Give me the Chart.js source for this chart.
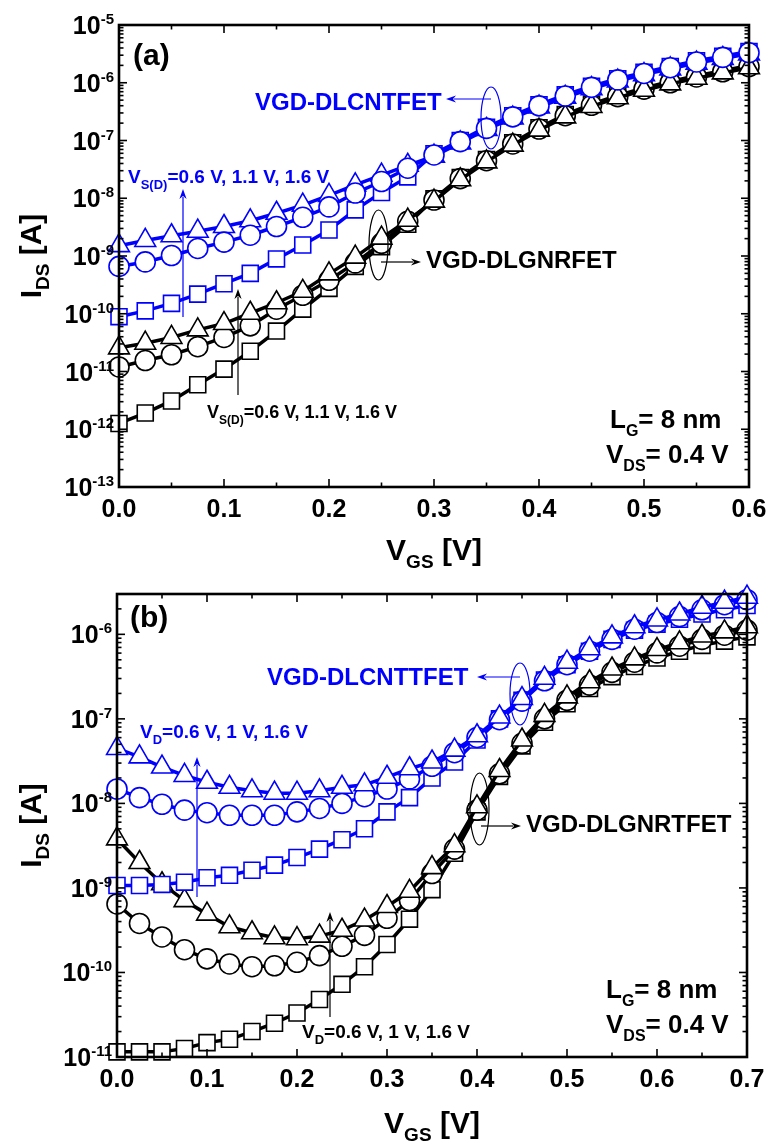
<!DOCTYPE html>
<html>
<head>
<meta charset="utf-8">
<script src="https://cdn.jsdelivr.net/npm/chart.js@4.4.1/dist/chart.umd.min.js"></script>
<style>
  html, body { margin: 0; padding: 0; background: #ffffff; }
  #wrap { position: relative; width: 766px; height: 1142px; overflow: hidden; }
  canvas { position: absolute; left: 0; }
  #chartA { top: 0; width: 766px; height: 570px; }
  #chartB { top: 570px; width: 766px; height: 572px; }
</style>
</head>
<body>
<div id="wrap">
  <canvas id="chartA" width="766" height="570"></canvas>
  <canvas id="chartB" width="766" height="572"></canvas>
</div>
<script>
// ---------------- Panel (a) data : I_DS [A] vs V_GS [V] ----------------
const vgsA = [0, 0.025, 0.05, 0.075, 0.1, 0.125, 0.15, 0.175, 0.2, 0.225, 0.25, 0.275, 0.3,
              0.325, 0.35, 0.375, 0.4, 0.425, 0.45, 0.475, 0.5, 0.525, 0.55, 0.575, 0.6];
// VGD-DLCNTFET (blue)
const cntTriA = [1.51e-9, 1.86e-9, 2.24e-9, 2.69e-9, 3.24e-9, 4.07e-9, 5.5e-9, 7.6e-9, 1.12e-8, 1.7e-8,
                 2.51e-8, 3.72e-8, 5.37e-8, 9.1e-8, 1.55e-7, 2.45e-7, 3.8e-7, 5.6e-7, 7.9e-7, 1.07e-6,
                 1.38e-6, 1.74e-6, 2.19e-6, 2.63e-6, 3.16e-6];
const cntCirA = [6.6e-10, 7.9e-10, 1.02e-9, 1.35e-9, 1.74e-9, 2.29e-9, 3.24e-9, 4.68e-9, 7.08e-9, 1.23e-8,
                 1.95e-8, 3.31e-8, 5.62e-8, 9.55e-8, 1.62e-7, 2.57e-7, 3.98e-7, 5.89e-7, 8.32e-7, 1.12e-6,
                 1.45e-6, 1.82e-6, 2.29e-6, 2.75e-6, 3.31e-6];
const cntSqA  = [8.9e-11, 1.12e-10, 1.51e-10, 2.19e-10, 3.31e-10, 5.0e-10, 8.9e-10, 1.55e-9, 2.82e-9, 6.3e-9,
                 1.26e-8, 2.34e-8, 5.89e-8, 1.0e-7, 1.7e-7, 2.69e-7, 4.17e-7, 6.17e-7, 8.71e-7, 1.17e-6,
                 1.51e-6, 1.91e-6, 2.4e-6, 2.88e-6, 3.47e-6];
// VGD-DLGNRFET (black)
const gnrTriA = [2.57e-11, 3.09e-11, 3.89e-11, 5.25e-11, 6.76e-11, 1.02e-10, 1.55e-10, 2.45e-10, 4.9e-10, 9.55e-10,
                 2.04e-9, 4.17e-9, 8.91e-9, 2.09e-8, 4.27e-8, 8.32e-8, 1.51e-7, 2.57e-7, 3.89e-7, 5.5e-7,
                 7.41e-7, 9.55e-7, 1.2e-6, 1.48e-6, 1.82e-6];
const gnrCirA = [1.2e-11, 1.55e-11, 1.95e-11, 2.69e-11, 3.89e-11, 6.17e-11, 1.2e-10, 2.09e-10, 3.8e-10, 7.59e-10,
                 1.66e-9, 3.98e-9, 9.33e-9, 2.19e-8, 4.47e-8, 8.71e-8, 1.58e-7, 2.69e-7, 4.07e-7, 5.75e-7,
                 7.76e-7, 1.0e-6, 1.26e-6, 1.55e-6, 1.91e-6];
const gnrSqA  = [1.26e-12, 1.91e-12, 3.09e-12, 5.89e-12, 1.1e-11, 2.24e-11, 5.01e-11, 1.2e-10, 2.75e-10, 6.61e-10,
                 1.45e-9, 3.55e-9, 9.77e-9, 2.29e-8, 4.68e-8, 9.12e-8, 1.66e-7, 2.82e-7, 4.27e-7, 6.03e-7,
                 8.13e-7, 1.05e-6, 1.32e-6, 1.62e-6, 2.0e-6];

// ---------------- Panel (b) data ----------------
const vgsB = [0, 0.025, 0.05, 0.075, 0.1, 0.125, 0.15, 0.175, 0.2, 0.225, 0.25, 0.275, 0.3, 0.325, 0.35,
              0.375, 0.4, 0.425, 0.45, 0.475, 0.5, 0.525, 0.55, 0.575, 0.6, 0.625, 0.65, 0.675, 0.7];
// VGD-DLCNTTFET (blue)
const cntTriB = [4.47e-8, 3.55e-8, 2.69e-8, 2.14e-8, 1.78e-8, 1.55e-8, 1.41e-8, 1.32e-8, 1.32e-8, 1.41e-8,
                 1.55e-8, 1.66e-8, 2.04e-8, 2.57e-8, 3.09e-8, 4.27e-8, 6.31e-8, 1.05e-7, 1.74e-7, 3.02e-7,
                 4.68e-7, 6.76e-7, 9.33e-7, 1.23e-6, 1.48e-6, 1.74e-6, 2.09e-6, 2.4e-6, 2.75e-6];
const cntCirB = [1.48e-8, 1.17e-8, 9.77e-9, 8.32e-9, 7.76e-9, 7.24e-9, 7.24e-9, 7.24e-9, 7.94e-9, 8.71e-9,
                 1.0e-8, 1.2e-8, 1.48e-8, 1.95e-8, 2.75e-8, 3.98e-8, 6.03e-8, 9.77e-8, 1.62e-7, 2.82e-7,
                 4.37e-7, 6.31e-7, 8.71e-7, 1.15e-6, 1.38e-6, 1.62e-6, 1.95e-6, 2.24e-6, 2.57e-6];
const cntSqB  = [1.07e-9, 1.07e-9, 1.1e-9, 1.17e-9, 1.32e-9, 1.41e-9, 1.62e-9, 1.86e-9, 2.29e-9, 2.88e-9,
                 3.72e-9, 5.01e-9, 7.94e-9, 1.17e-8, 2.0e-8, 3.09e-8, 5.62e-8, 1.0e-7, 1.66e-7, 2.88e-7,
                 4.37e-7, 6.31e-7, 8.71e-7, 1.12e-6, 1.32e-6, 1.51e-6, 1.74e-6, 1.95e-6, 2.19e-6];
// VGD-DLGNRTFET (black)
const gnrTriB = [3.8e-9, 2.0e-9, 1.12e-9, 7.08e-10, 4.9e-10, 3.47e-10, 2.95e-10, 2.57e-10, 2.51e-10, 2.69e-10,
                 3.16e-10, 4.17e-10, 6.03e-10, 9.12e-10, 1.74e-9, 3.16e-9, 9.12e-9, 2.45e-8, 5.62e-8, 1.1e-7,
                 1.82e-7, 2.75e-7, 3.89e-7, 5.13e-7, 6.61e-7, 7.94e-7, 9.55e-7, 1.07e-6, 1.23e-6];
const gnrCirB = [6.46e-10, 3.8e-10, 2.63e-10, 1.86e-10, 1.45e-10, 1.26e-10, 1.17e-10, 1.2e-10, 1.32e-10, 1.58e-10,
                 2.04e-10, 2.75e-10, 4.37e-10, 7.08e-10, 1.48e-9, 2.88e-9, 8.32e-9, 2.24e-8, 5.13e-8, 1.0e-7,
                 1.66e-7, 2.51e-7, 3.55e-7, 4.68e-7, 6.03e-7, 7.24e-7, 8.71e-7, 9.77e-7, 1.12e-6];
const gnrSqB  = [1.15e-11, 1.15e-11, 1.15e-11, 1.26e-11, 1.48e-11, 1.62e-11, 2.0e-11, 2.51e-11, 3.31e-11, 4.79e-11,
                 7.24e-11, 1.17e-10, 2.14e-10, 4.27e-10, 9.55e-10, 2.57e-9, 7.94e-9, 2.09e-8, 4.79e-8, 9.12e-8,
                 1.51e-7, 2.29e-7, 3.16e-7, 4.17e-7, 5.25e-7, 6.31e-7, 7.41e-7, 8.32e-7, 9.33e-7];

// ---------------- Tick labels ----------------
const xTicksA = [0, 0.1, 0.2, 0.3, 0.4, 0.5, 0.6];
const xTickLabelsA = ['0.0', '0.1', '0.2', '0.3', '0.4', '0.5', '0.6'];
const yExpA = [-13, -12, -11, -10, -9, -8, -7, -6, -5];
const xTicksB = [0, 0.1, 0.2, 0.3, 0.4, 0.5, 0.6, 0.7];
const xTickLabelsB = ['0.0', '0.1', '0.2', '0.3', '0.4', '0.5', '0.6', '0.7'];
const yExpB = [-11, -10, -9, -8, -7, -6];

// ---------------- helpers ----------------
const BLUE = '#0000ff';
const BLACK = '#000000';
const FAM = '"Liberation Sans", Arial, Helvetica, sans-serif';
function fnt(sz) { return 'bold ' + sz + 'px ' + FAM; }

function rich(ctx, x, y, parts, color, align) {
  let w = 0;
  for (const p of parts) { ctx.font = fnt(p[1]); w += ctx.measureText(p[0]).width; }
  let cx = align === 'right' ? x - w : (align === 'center' ? x - w / 2 : x);
  ctx.fillStyle = color;
  ctx.textAlign = 'left';
  ctx.textBaseline = 'alphabetic';
  for (const p of parts) {
    ctx.font = fnt(p[1]);
    ctx.fillText(p[0], cx, y + (p[2] || 0));
    cx += ctx.measureText(p[0]).width;
  }
}
function seg(ctx, x1, y1, x2, y2) {
  ctx.beginPath(); ctx.moveTo(x1, y1); ctx.lineTo(x2, y2); ctx.stroke();
}
function arrow(ctx, x1, y1, x2, y2, color) {
  ctx.strokeStyle = color; ctx.fillStyle = color; ctx.lineWidth = 1.2;
  const ang = Math.atan2(y2 - y1, x2 - x1);
  const L = 10, H = 3.6;
  seg(ctx, x1, y1, x2 - Math.cos(ang) * (L - 2), y2 - Math.sin(ang) * (L - 2));
  ctx.beginPath();
  ctx.moveTo(x2, y2);
  ctx.lineTo(x2 - Math.cos(ang) * L - Math.sin(ang) * H, y2 - Math.sin(ang) * L + Math.cos(ang) * H);
  ctx.lineTo(x2 - Math.cos(ang) * (L - 3), y2 - Math.sin(ang) * (L - 3));
  ctx.lineTo(x2 - Math.cos(ang) * L + Math.sin(ang) * H, y2 - Math.sin(ang) * L - Math.cos(ang) * H);
  ctx.closePath(); ctx.fill();
}

function makeDecor(cfg) {
  return {
    id: 'decor' + cfg.id,
    afterDraw(chart) {
      const ctx = chart.ctx, a = chart.chartArea;
      const xs = chart.scales.x, ys = chart.scales.y;
      ctx.save();
      ctx.strokeStyle = BLACK;
      ctx.lineWidth = 1.6;
      // x ticks (inward, bottom and top)
      cfg.xTicks.forEach((v, i) => {
        const p = xs.getPixelForValue(v);
        seg(ctx, p, a.bottom, p, a.bottom - 8);
        seg(ctx, p, a.top, p, a.top + 8);
        if (i < cfg.xTicks.length - 1) {
          const q = xs.getPixelForValue((v + cfg.xTicks[i + 1]) / 2);
          seg(ctx, q, a.bottom, q, a.bottom - 4.5);
          seg(ctx, q, a.top, q, a.top + 4.5);
        }
      });
      // y ticks (decades + minor 2..9), inward, left and right
      const e0 = cfg.yExp[0], e1 = cfg.yExp[cfg.yExp.length - 1];
      for (let e = e0; e <= e1 + 1; e++) {
        for (let m = 1; m <= 9; m++) {
          const v = m * Math.pow(10, e);
          if (v < ys.min * 0.999 || v > ys.max * 1.001) continue;
          const p = ys.getPixelForValue(v);
          const L = m === 1 ? 8 : 4.5;
          seg(ctx, a.left, p, a.left + L, p);
          seg(ctx, a.right, p, a.right - L, p);
        }
      }
      // frame
      ctx.lineWidth = 2.6;
      ctx.strokeRect(a.left, a.top, a.right - a.left, a.bottom - a.top);
      // x tick labels
      cfg.xTicks.forEach((v, i) => {
        rich(ctx, xs.getPixelForValue(v), a.bottom + 30, [[cfg.xLabels[i], 25, 0]], BLACK, 'center');
      });
      // y tick labels 10^n
      cfg.yExp.forEach(e => {
        const p = ys.getPixelForValue(Math.pow(10, e));
        rich(ctx, a.left - 5, p + 9, [['10', 25, 0], [String(e), 15, -10]], BLACK, 'right');
      });
      // axis titles
      rich(ctx, (a.left + a.right) / 2, cfg.xTitleY,
           [['V', 30, 0], ['GS', 19, 8], [' [V]', 30, 0]], BLACK, 'center');
      ctx.save();
      ctx.translate(cfg.yTitleX, (a.top + a.bottom) / 2);
      ctx.rotate(-Math.PI / 2);
      rich(ctx, 0, 0, [['I', 30, 0], ['DS', 19, 8], [' [A]', 30, 0]], BLACK, 'center');
      ctx.restore();
      // annotations (offsets from chart-area top-left)
      for (const it of cfg.notes) {
        if (it.t === 'text') {
          rich(ctx, a.left + it.dx, a.top + it.dy, it.parts, it.c, 'left');
        } else if (it.t === 'arrow') {
          arrow(ctx, a.left + it.x1, a.top + it.y1, a.left + it.x2, a.top + it.y2, it.c);
        } else if (it.t === 'ellipse') {
          ctx.strokeStyle = it.c; ctx.lineWidth = 1.2;
          ctx.beginPath();
          ctx.ellipse(a.left + it.cx, a.top + it.cy, it.rx, it.ry, 0, 0, Math.PI * 2);
          ctx.stroke();
        }
      }
      ctx.restore();
    }
  };
}

function ds(label, xs, ys, color, style, radius, order) {
  return {
    label: label,
    data: xs.map((x, i) => ({ x: x, y: ys[i] })),
    borderColor: color,
    backgroundColor: '#ffffff',
    borderWidth: 3.5,
    pointStyle: style,
    pointRadius: radius,
    pointBorderColor: color,
    pointBackgroundColor: '#ffffff',
    pointBorderWidth: 1.6,
    tension: 0,
    clip: false,
    order: order
  };
}

function makeChart(id, datasets, xmax, ymin, ymax, pad, xH, yW, decor) {
  return new Chart(document.getElementById(id), {
    type: 'line',
    data: { datasets: datasets },
    options: {
      responsive: false,
      animation: false,
      devicePixelRatio: 1,
      events: [],
      layout: { padding: pad, autoPadding: false },
      plugins: { legend: { display: false }, tooltip: { enabled: false } },
      scales: {
        x: { type: 'linear', min: 0, max: xmax,
             ticks: { display: false }, grid: { display: false }, border: { display: false },
             afterFit: s => { s.height = xH; } },
        y: { type: 'logarithmic', min: ymin, max: ymax,
             ticks: { display: false }, grid: { display: false }, border: { display: false },
             afterFit: s => { s.width = yW; } }
      }
    },
    plugins: [decor]
  });
}

// marker sizes
const R_TRI = 12, R_CIR = 10, R_SQ = 11.3;

// ---------------- Panel (a) ----------------
const notesA = [
  { t: 'text', dx: 14, dy: 40, parts: [['(a)', 30, 0]], c: BLACK },
  { t: 'text', dx: 136, dy: 85, parts: [['VGD-DLCNTFET', 24, 0]], c: BLUE },
  { t: 'ellipse', cx: 372, cy: 93, rx: 10, ry: 31, c: BLUE },
  { t: 'arrow', x1: 372, y1: 74, x2: 327, y2: 74, c: BLUE },
  { t: 'text', dx: 9, dy: 158, parts: [['V', 19, 0], ['S(D)', 13, 6], ['=0.6 V, 1.1 V, 1.6 V', 19, 0]], c: BLUE },
  { t: 'arrow', x1: 64, y1: 292, x2: 64, y2: 164, c: BLUE },
  { t: 'ellipse', cx: 259.5, cy: 220, rx: 9.5, ry: 35, c: BLACK },
  { t: 'arrow', x1: 262, y1: 237, x2: 302, y2: 237, c: BLACK },
  { t: 'text', dx: 307, dy: 243, parts: [['VGD-DLGNRFET', 24, 0]], c: BLACK },
  { t: 'arrow', x1: 119, y1: 370, x2: 119, y2: 264, c: BLACK },
  { t: 'text', dx: 88, dy: 393, parts: [['V', 18, 0], ['S(D)', 12, 6], ['=0.6 V, 1.1 V, 1.6 V', 18, 0]], c: BLACK },
  { t: 'text', dx: 491, dy: 403, parts: [['L', 26, 0], ['G', 16, 8], ['= 8 nm', 26, 0]], c: BLACK },
  { t: 'text', dx: 487, dy: 438, parts: [['V', 26, 0], ['DS', 16, 8], ['= 0.4 V', 26, 0]], c: BLACK }
];
makeChart('chartA', [
  ds('CNT 1.6 V', vgsA, cntTriA, BLUE, 'triangle', R_TRI, 2),
  ds('CNT 1.1 V', vgsA, cntCirA, BLUE, 'circle', R_CIR, 0),
  ds('CNT 0.6 V', vgsA, cntSqA, BLUE, 'rect', R_SQ, 1),
  ds('GNR 1.6 V', vgsA, gnrTriA, BLACK, 'triangle', R_TRI, 3),
  ds('GNR 1.1 V', vgsA, gnrCirA, BLACK, 'circle', R_CIR, 4),
  ds('GNR 0.6 V', vgsA, gnrSqA, BLACK, 'rect', R_SQ, 5)
], 0.6, 1e-13, 1e-5, { left: 0, top: 25, right: 17, bottom: 0 }, 83, 119,
  makeDecor({ id: 'A', xTicks: xTicksA, xLabels: xTickLabelsA, yExp: yExpA,
              xTitleY: 560, yTitleX: 41, notes: notesA }));

// ---------------- Panel (b) ----------------
const notesB = [
  { t: 'text', dx: 13, dy: 33, parts: [['(b)', 30, 0]], c: BLACK },
  { t: 'text', dx: 150, dy: 91, parts: [['VGD-DLCNTTFET', 24, 0]], c: BLUE },
  { t: 'ellipse', cx: 403, cy: 100, rx: 10, ry: 31, c: BLUE },
  { t: 'arrow', x1: 403, y1: 83, x2: 360, y2: 83, c: BLUE },
  { t: 'text', dx: 23, dy: 144, parts: [['V', 19, 0], ['D', 13, 6], ['=0.6 V, 1 V, 1.6 V', 19, 0]], c: BLUE },
  { t: 'arrow', x1: 80, y1: 303, x2: 80, y2: 163, c: BLUE },
  { t: 'ellipse', cx: 362.5, cy: 215, rx: 9.5, ry: 36, c: BLACK },
  { t: 'arrow', x1: 364, y1: 232, x2: 404, y2: 232, c: BLACK },
  { t: 'text', dx: 409, dy: 238, parts: [['VGD-DLGNRTFET', 24, 0]], c: BLACK },
  { t: 'arrow', x1: 213, y1: 423, x2: 213, y2: 318, c: BLACK },
  { t: 'text', dx: 185, dy: 444, parts: [['V', 19, 0], ['D', 13, 6], ['=0.6 V, 1 V, 1.6 V', 19, 0]], c: BLACK },
  { t: 'text', dx: 489, dy: 404, parts: [['L', 26, 0], ['G', 16, 8], ['= 8 nm', 26, 0]], c: BLACK },
  { t: 'text', dx: 489, dy: 439, parts: [['V', 26, 0], ['DS', 16, 8], ['= 0.4 V', 26, 0]], c: BLACK }
];
makeChart('chartB', [
  ds('CNT 1.6 V', vgsB, cntTriB, BLUE, 'triangle', R_TRI, 0),
  ds('CNT 1 V', vgsB, cntCirB, BLUE, 'circle', R_CIR, 1),
  ds('CNT 0.6 V', vgsB, cntSqB, BLUE, 'rect', R_SQ, 2),
  ds('GNR 1.6 V', vgsB, gnrTriB, BLACK, 'triangle', R_TRI, 3),
  ds('GNR 1 V', vgsB, gnrCirB, BLACK, 'circle', R_CIR, 4),
  ds('GNR 0.6 V', vgsB, gnrSqB, BLACK, 'rect', R_SQ, 5)
], 0.7, 1e-11, 3e-6, { left: 0, top: 24, right: 19, bottom: 0 }, 85, 117,
  makeDecor({ id: 'B', xTicks: xTicksB, xLabels: xTickLabelsB, yExp: yExpB,
              xTitleY: 563, yTitleX: 41, notes: notesB }));
</script>
</body>
</html>
